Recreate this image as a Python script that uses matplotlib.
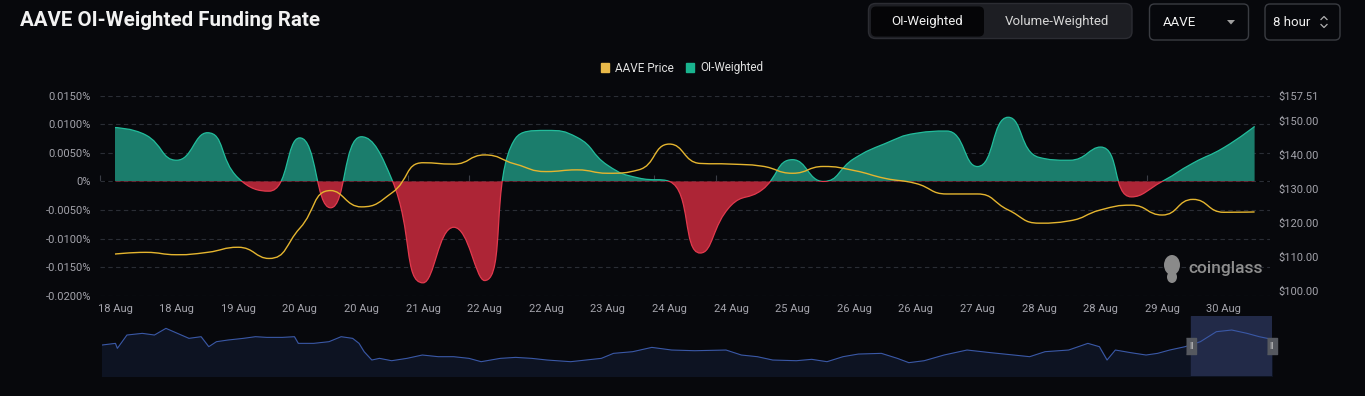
import numpy as np
import matplotlib.pyplot as plt
from matplotlib.path import Path
from matplotlib.patches import PathPatch, Rectangle, FancyBboxPatch, Ellipse, Polygon, Patch
from matplotlib.lines import Line2D
from matplotlib.transforms import Affine2D

plt.rcParams['font.family'] = ['Roboto', 'DejaVu Sans']

# 8-hour OI-weighted funding rate (%), 18 Aug 00:00 -> 30 Aug 08:00
funding = [0.0094, 0.0081, 0.0037, 0.0085, 0.0006, -0.0017, 0.0076, -0.0046, 0.0078, 0.0002,
           -0.0177, -0.0080, -0.0173, 0.0075, 0.0089, 0.0077, 0.0028, 0.0006, 0.0000, -0.0125,
           -0.0042, -0.0015, 0.0038, 0.0000, 0.0040, 0.0066, 0.0084, 0.0088, 0.0026, 0.0112,
           0.0042, 0.0037, 0.0060, -0.0027, 0.0000, 0.0032, 0.0059, 0.0096]
price = [110.8, 111.3, 110.6, 111.3, 112.8, 109.5, 118.4, 129.5, 124.7, 128.9,
         137.7, 137.3, 140.0, 137.3, 135.1, 135.6, 134.6, 135.6, 143.2, 137.5,
         137.3, 136.7, 134.6, 136.6, 135.4, 133.1, 131.6, 128.5, 128.5, 123.8,
         119.9, 120.6, 123.8, 125.2, 122.3, 126.9, 123.1, 123.2]
date_labels = ['18 Aug', '18 Aug', '19 Aug', '20 Aug', '20 Aug', '21 Aug', '22 Aug', '22 Aug',
               '23 Aug', '24 Aug', '24 Aug', '25 Aug', '26 Aug', '26 Aug', '27 Aug', '28 Aug',
               '28 Aug', '29 Aug', '30 Aug']
left_ticks = [-0.02, -0.015, -0.01, -0.005, 0, 0.005, 0.01, 0.015]
right_ticks = [100, 110, 120, 130, 140, 150, 157.51]

# navigator: full price history (days from start, price)
nav_day = [0, 2.1, 2.4, 3.9, 6.3, 8.2, 10.0, 11.8, 13.6, 15.5, 16.7, 17.9, 19.7, 22.1, 24.0,
           25.8, 28.2, 30.1, 30.7, 33.1, 35.5, 37.4, 39.2, 40.2, 41.0, 42.2, 43.4, 45.3, 47.7,
           50.1, 52.6, 55.0, 57.4, 59.3, 62.3, 64.7, 67.2, 69.6, 73.3, 75.7, 78.1, 80.0, 83.0,
           86.0, 89.1, 92.7, 97.6, 100.0, 102.5, 104.9, 108.6, 111.0, 113.4, 115.9, 118.3,
           121.9, 124.4, 126.2, 128.6, 131.7, 135.3, 139.0, 142.6, 145.1, 147.5, 151.2, 154.2,
           156.0, 157.2, 158.5, 160.9, 163.3, 165.1, 167.0, 169.4, 171.8, 174.3, 176.7, 179.1,
           181.0, 183.0]
nav_price = [113.9, 116.8, 108.1, 131.3, 134.2, 131.3, 142.9, 134.2, 125.5, 128.4, 111.0, 119.7,
             122.6, 125.5, 128.4, 127.2, 127.2, 128.4, 116.8, 116.8, 119.7, 128.4, 125.5, 116.8,
             102.3, 87.8, 90.7, 86.6, 90.7, 96.5, 93.6, 93.6, 90.7, 84.9, 90.7, 92.4, 90.7, 87.8,
             84.9, 87.8, 90.7, 99.4, 102.3, 109.8, 105.2, 104.0, 105.2, 96.5, 93.6, 87.8, 86.6,
             89.0, 84.9, 93.6, 98.2, 99.4, 90.7, 83.2, 86.6, 96.5, 105.2, 100.6, 96.5, 93.6,
             102.3, 105.2, 116.8, 111.0, 87.8, 105.2, 100.6, 96.5, 99.4, 105.2, 111.0, 119.7,
             137.1, 140.0, 134.2, 128.4, 123.8]

BG = '#07080c'
GRID = '#2a2d35'
TXT = '#a3a3ab'
GREEN_FILL = '#1b7d6c'
GREEN_EDGE = '#22bd9c'
RED_FILL = '#ad2536'
RED_EDGE = '#e23a4e'
GOLD = '#e5b52f'
W, H = 1365, 396

fig = plt.figure(figsize=(W / 100, H / 100), dpi=100, facecolor=BG)
pix = Affine2D().scale(1 / W, -1 / H).translate(0, 1) + fig.transFigure

ax = fig.add_axes([99.6 / W, 100 / H, 1170.4 / W, 200.5 / H])
ax.set_facecolor(BG)
x = np.arange(len(funding))
ax.set_xlim(-0.5, len(funding) - 0.5)
ax.set_ylim(-0.02, 0.015)
ax2 = ax.twinx()
ax2.set_ylim(98.44, 157.51)


def smooth_verts(xs, ys, trans, smooth=0.5):
    # echarts-like bezier smoothing, done in display space
    p = trans.transform(np.column_stack([xs, ys]))
    n = len(p)
    cin = p.copy()
    cout = p.copy()
    for i in range(1, n - 1):
        a, c, b = p[i - 1], p[i], p[i + 1]
        v = b - a
        l0 = np.hypot(*(c - a))
        l1 = np.hypot(*(b - c))
        r = l1 / (l0 + l1)
        nxt = c + v * smooth * r
        nxt = np.minimum(nxt, np.maximum(b, c))
        nxt = np.maximum(nxt, np.minimum(b, c))
        prv = c - (nxt - c) * l0 / l1
        prv = np.minimum(prv, np.maximum(a, c))
        prv = np.maximum(prv, np.minimum(a, c))
        nxt = c + (c - prv) * l1 / l0
        cin[i], cout[i] = prv, nxt
    verts = [p[0]]
    codes = [Path.MOVETO]
    for i in range(n - 1):
        verts += [cout[i], cin[i + 1], p[i + 1]]
        codes += [Path.CURVE4] * 3
    return trans.inverted().transform(np.array(verts)), codes


# funding rate area, green above zero, red below
cv, cc = smooth_verts(x, funding, ax.transData)
fill_v = np.vstack([cv, [[x[-1], 0], [x[0], 0], [x[0], 0]]])
fill_c = cc + [Path.LINETO, Path.LINETO, Path.CLOSEPOLY]
above = Rectangle((-1, 0), len(x) + 2, 1, transform=ax.transData)
below = Rectangle((-1, -1), len(x) + 2, 1, transform=ax.transData)
for fc, ec, clip in [(GREEN_FILL, GREEN_EDGE, above), (RED_FILL, RED_EDGE, below)]:
    area = PathPatch(Path(fill_v, fill_c), facecolor=fc, edgecolor='none', zorder=2)
    ax.add_patch(area)
    area.set_clip_path(clip)
    edge = PathPatch(Path(cv, cc), facecolor='none', edgecolor=ec, lw=0.9, zorder=3)
    ax.add_patch(edge)
    edge.set_clip_path(clip)

pv, pc = smooth_verts(x, price, ax2.transData)
ax2.add_patch(PathPatch(Path(pv, pc), facecolor='none', edgecolor=GOLD, lw=1.0, zorder=4))

ax.set_yticks(left_ticks)
ax.set_yticklabels(['0%' if v == 0 else f'{v:.4f}%' for v in left_ticks])
ax.set_xticks(x[::2])
ax.set_xticklabels(date_labels)
ax.tick_params(axis='both', length=0, colors=TXT, labelsize=8)
ax.tick_params(axis='y', pad=6.2)
ax.tick_params(axis='x', pad=6)
ax.grid(axis='y', color=GRID, ls=(0, (4, 3)), lw=0.8)
ax.set_axisbelow(True)
ax2.set_yticks(right_ticks)
ax2.set_yticklabels([f'${v:.2f}' for v in right_ticks])
ax2.tick_params(axis='y', length=0, colors=TXT, labelsize=8, pad=5.8)
for a in (ax, ax2):
    for s in a.spines.values():
        s.set_visible(False)

# small band ticks on the zero line
zloc = (0 - ax.get_ylim()[0]) / (ax.get_ylim()[1] - ax.get_ylim()[0])
sec = ax.secondary_xaxis(zloc)
sec.set_xticks(x[::2] - 0.5)
sec.set_xticklabels([])
sec.tick_params(length=4, color='#3a3d45', width=0.8)
sec.spines['bottom'].set_visible(False)

# legend
fig.legend(handles=[Patch(color='#e9b949', label='AAVE Price'), Patch(color='#19b48f', label='OI-Weighted')],
           loc='center', bbox_to_anchor=(682 / W, 1 - 68 / H), ncol=2, frameon=False,
           handlelength=0.65, handleheight=0.85, handletextpad=0.5, columnspacing=1.1,
           fontsize=8.5, labelcolor='#e0e0e0')

# navigator
nav = fig.add_axes([102 / W, 20 / H, 1170 / W, 60 / H])
nav.set_facecolor(BG)
nav.set_xlim(nav_day[0], nav_day[-1])
nav.set_ylim(60, 164.4)
nav.fill_between(nav_day, nav_price, 60, color='#0d1322', zorder=1)
win0 = nav_day[-1] - len(price) * 8 / 24
nav.axvspan(win0, nav_day[-1], color='#222a48', zorder=2)
nav.plot(nav_day, nav_price, color='#3a58a6', lw=0.8, zorder=3)
hand = [(-1, -1.6), (1, -1.6), (1, 1.6), (-1, 1.6)]
nav.plot([win0, nav_day[-1]], [nav.get_ylim()[0] + 0.5 * (nav.get_ylim()[1] - nav.get_ylim()[0])] * 2,
         ls='none', marker=hand, ms=12, color='#55585f', zorder=5, clip_on=False)
for d in (win0, nav_day[-1]):
    nav.text(d, 112, 'II', color='#c8c8c8', fontsize=5.5, ha='center', va='center', zorder=6,
             clip_on=False, fontfamily='DejaVu Sans')
nav.set_xticks([])
nav.set_yticks([])
for s in nav.spines.values():
    s.set_visible(False)

# title and header controls
fig.text(20 / W, 1 - 21 / H, 'AAVE OI-Weighted Funding Rate', color='#f2f2f2', fontsize=14.8,
         fontweight='bold', va='center', ha='left')
fig.add_artist(FancyBboxPatch((868.5, 3.5), 263.5, 35, boxstyle='round,pad=0,rounding_size=7',
                              transform=pix, facecolor='#1d1e23', edgecolor='#2c2d33', lw=1))
fig.add_artist(FancyBboxPatch((871, 6.5), 113, 30, boxstyle='round,pad=0,rounding_size=5',
                              transform=pix, facecolor='#050507', edgecolor='none'))
fig.text(927 / W, 1 - 22 / H, 'OI-Weighted', color='#f0f0f0', fontsize=9.5, ha='center', va='center')
fig.text(1057 / W, 1 - 22 / H, 'Volume-Weighted', color='#d6d6d6', fontsize=9.5, ha='center', va='center')
fig.add_artist(FancyBboxPatch((1149.5, 4), 99, 36, boxstyle='round,pad=0,rounding_size=5',
                              transform=pix, facecolor='none', edgecolor='#3a3c42', lw=1))
fig.text(1163 / W, 1 - 22 / H, 'AAVE', color='#f0f0f0', fontsize=9.5, ha='left', va='center')
fig.add_artist(Polygon([(1227, 20), (1235, 20), (1231, 24.5)], closed=True, transform=pix,
                       facecolor='#a0a0a0', edgecolor='none'))
fig.add_artist(FancyBboxPatch((1265, 4), 75, 36, boxstyle='round,pad=0,rounding_size=5',
                              transform=pix, facecolor='none', edgecolor='#3a3c42', lw=1))
fig.text(1273 / W, 1 - 22 / H, '8 hour', color='#f0f0f0', fontsize=9.5, ha='left', va='center')
fig.add_artist(Line2D([1321, 1324, 1327], [19.5, 16.5, 19.5], transform=pix, color='#b0b0b0', lw=0.9))
fig.add_artist(Line2D([1321, 1324, 1327], [24.5, 27.5, 24.5], transform=pix, color='#b0b0b0', lw=0.9))

# watermark
fig.add_artist(Ellipse((1172, 265), 16, 20, transform=pix, facecolor='#8a8a8a', edgecolor='none'))
fig.add_artist(Ellipse((1172, 277), 10, 12, transform=pix, facecolor='#8a8a8a', edgecolor='none'))
fig.text(1188 / W, 1 - 269 / H, 'coinglass', color='#8f8f8f', fontsize=12.5, fontweight='medium',
         ha='left', va='center')

fig.savefig('out.png', dpi=100, facecolor=BG)
